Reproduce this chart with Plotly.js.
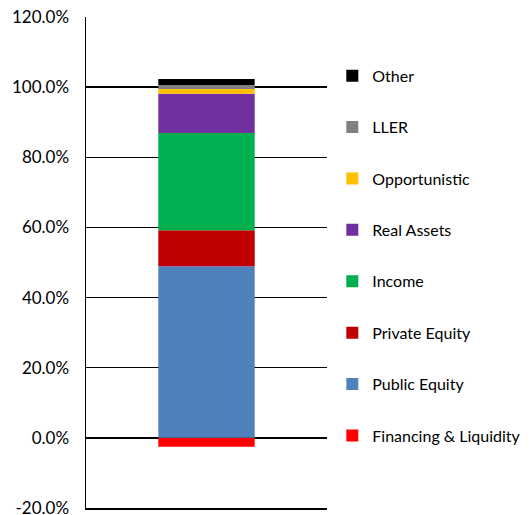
<!DOCTYPE html>
<html>
<head>
<meta charset="utf-8">
<script src="https://cdn.plot.ly/plotly-3.0.1.min.js"></script>
<style>body{margin:0;padding:0;background:#fff;} #chart{width:531px;height:515px;}</style>
</head>
<body>
<div id="chart"></div>
<script>
const categories = ["Allocation"];
const seriesNames = ["Financing & Liquidity", "Public Equity", "Private Equity", "Income", "Real Assets", "Opportunistic", "LLER", "Other"];
const seriesValues = [-2.5, 48.9, 10.3, 27.7, 11.2, 1.4, 1.1, 1.7];
const seriesColors = ["#FF0000", "#4F81BD", "#C00000", "#00B050", "#7030A0", "#FFC000", "#808080", "#000000"];
const tickValues = [-20, 0, 20, 40, 60, 80, 100, 120];
const tickLabels = ["-20.0%", "0.0%", "20.0%", "40.0%", "60.0%", "80.0%", "100.0%", "120.0%"];

const traces = seriesNames.map((name, i) => ({
  type: "bar",
  name: name,
  x: categories,
  y: [seriesValues[i]],
  marker: {color: seriesColors[i], line: {width: 0}},
  legendgroup: "g" + i,
  legendrank: seriesNames.length - i,
  hoverinfo: "name+y"
}));

const layout = {
  width: 531, height: 515,
  margin: {l: 86, r: 2, t: 17, b: 7},
  paper_bgcolor: "#fff", plot_bgcolor: "#fff",
  barmode: "relative",
  bargap: 0.6,
  font: {family: "Lato, 'Open Sans', sans-serif", size: 17, color: "#000"},
  showlegend: true,
  legend: {
    x: 0.556, xanchor: "left", y: 0.915, yanchor: "top",
    traceorder: "grouped",
    tracegroupgap: 27.6,
    font: {size: 16, color: "#000"},
    itemwidth: 30
  },
  xaxis: {
    domain: [0, 241 / 443],
    range: [-0.5, 0.5],
    showticklabels: false, ticks: "",
    showgrid: false, zeroline: false,
    showline: true, linecolor: "#000", linewidth: 1.5,
    fixedrange: true
  },
  yaxis: {
    range: [-20, 120],
    tickvals: tickValues, ticktext: tickLabels,
    ticks: "", ticklabelstandoff: 12,
    ticklabeloverflow: "allow",
    showgrid: true, gridcolor: "#000", gridwidth: 1.3,
    zeroline: true, zerolinecolor: "#000", zerolinewidth: 1.3,
    showline: true, linecolor: "#000", linewidth: 1.5,
    tickfont: {size: 17},
    fixedrange: true
  }
};

Plotly.newPlot("chart", traces, layout, {displayModeBar: false, staticPlot: true});
</script>
</body>
</html>
